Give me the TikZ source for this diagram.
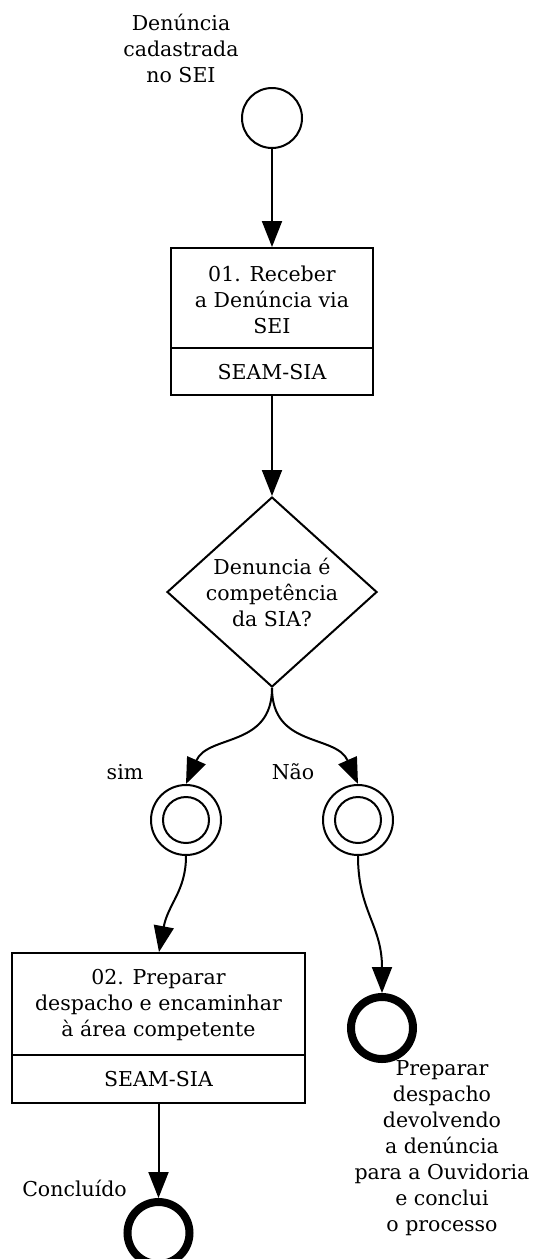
\documentclass[tikz,border=0pt]{standalone}
\usepackage{fontspec}
\setmainfont{DejaVu Serif}
\usetikzlibrary{arrows.meta,shapes.geometric}
\begin{document}
\begin{tikzpicture}[x=1pt,y=-1pt,
  every node/.style={font=\fontsize{20.5}{26}\selectfont, inner sep=0pt},
  lbl/.style={align=center},
  taskbox/.style={draw, line width=2pt, rectangle},
  startev/.style={draw, circle, line width=2pt, minimum size=60pt},
  midev/.style={draw, circle, line width=2pt, minimum size=70pt},
  endev/.style={draw, circle, line width=8pt, minimum size=62pt},
  gate/.style={draw, diamond, line width=2pt, minimum width=210pt, minimum height=190pt},
  arr/.style={line width=2pt, -{Triangle[width=20pt,length=26pt]}}]
\useasboundingbox (0,0) rectangle (534,1259);
\fill[white] (0,0) rectangle (534,1259);

% start
\node[lbl] (startlbl) at (181,48) {Denúncia\\cadastrada\\no SEI};
\node[startev] (start) at (272,118) {};

% task 1
\node[taskbox, minimum width=202pt, minimum height=147pt] (b1) at (272,321.5) {};
\draw[line width=2pt] (b1.west |- 0,348) -- (b1.east |- 0,348);
\node[lbl] (b1txt) at (272,300) {01. Receber\\a Denúncia via\\SEI};
\node[lbl] (b1lane) at (272,372) {SEAM-SIA};

% gateway
\node[gate] (d) at (272,592) {};
\node[lbl] (dtxt) at (272,592) {Denuncia é\\competência\\da SIA?};

% intermediate events
\node[midev] (m1) at (186,820) {};
\draw[line width=2pt] (m1.center) circle (23pt);
\node[midev] (m2) at (358,820) {};
\draw[line width=2pt] (m2.center) circle (23pt);
\node (simlbl) at (125,772) {sim};
\node (naolbl) at (293,772) {Não};

% task 2
\node[taskbox, minimum width=293pt, minimum height=150pt] (b2) at (158.5,1028) {};
\draw[line width=2pt] (b2.west |- 0,1055) -- (b2.east |- 0,1055);
\node[lbl] (b2txt) at (158.5,1005) {02. Preparar\\despacho e encaminhar\\à área competente};
\node[lbl] (b2lane) at (158.5,1079) {SEAM-SIA};

% end events
\node[endev] (e1) at (158.5,1233) {};
\node[anchor=east] (e1lbl) at (127,1188) {Concluído};
\node[endev] (e2) at (382,1028) {};
\node[lbl, anchor=north] (e2lbl) at (442,1060) {Preparar\\despacho\\devolvendo\\a denúncia\\para a Ouvidoria\\e conclui\\o processo};

% connectors
\draw[arr] (start) -- (b1);
\draw[arr] (b1) -- (d);
\draw[arr] (d.south) .. controls +(0,60) and +(22,-50) .. (m1.north);
\draw[arr] (d.south) .. controls +(0,60) and +(-22,-50) .. (m2.north);
\draw[arr] (m1.south) .. controls +(0,35) and +(9,-48) .. (b2.north -| 159,0);
\draw[arr] (m2.south) .. controls +(0,55) and +(0,-68) .. (e2.north);
\draw[arr] (b2.south -| e1.north) -- (e1.north);
\end{tikzpicture}
\end{document}
